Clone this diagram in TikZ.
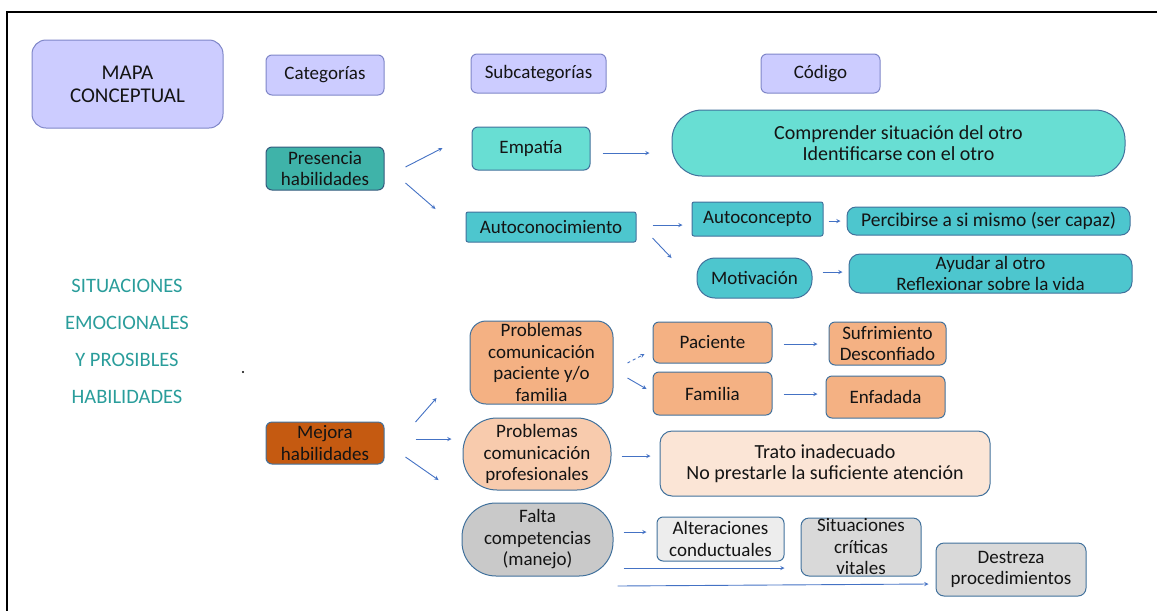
\documentclass[tikz,border=0pt]{standalone}
\usepackage{fontspec}
\setmainfont{Carlito}
\definecolor{lavfill}{HTML}{CCCCFF}
\definecolor{lavline}{HTML}{7F86C8}
\definecolor{boxline}{HTML}{41719C}
\definecolor{tealdark}{HTML}{3FB3A9}
\definecolor{turq}{HTML}{68DED3}
\definecolor{cyanbox}{HTML}{4DC6CE}
\definecolor{orangedark}{HTML}{C55A11}
\definecolor{orangelight}{HTML}{F4B183}
\definecolor{peach}{HTML}{F8CBAD}
\definecolor{peachlight}{HTML}{FBE5D6}
\definecolor{grayfalta}{HTML}{C9C9C9}
\definecolor{graylight}{HTML}{EDEDED}
\definecolor{graymid}{HTML}{D9D9D9}
\definecolor{arrblue}{HTML}{4472C4}
\definecolor{situtext}{HTML}{2A9D9B}

\begin{document}
\begin{tikzpicture}[x=1pt, y=-1pt,
    mybox/.style={rectangle, draw=boxline, line width=1pt, rounded corners=6pt, inner sep=0pt, align=center, font=\fontsize{19}{21.5}\selectfont, text=black!92},
    lavbox/.style={mybox, fill=lavfill, draw=lavline},
    myarrow/.style={->, >=stealth, draw=arrblue, line width=0.9pt},
]
\useasboundingbox (0,0) rectangle (1161,611);
\draw[line width=1.6pt] (1157,12) -- (7,12) -- (7,611);

% encabezados
\node[lavbox, minimum width=191, minimum height=88, rounded corners=14pt, font=\fontsize{21}{23}\selectfont] (mapa) at (127.5,84) {MAPA\\CONCEPTUAL};
\node[lavbox, minimum width=118, minimum height=40] (cat) at (325,75) {Categorías};
\node[lavbox, minimum width=135, minimum height=39] (subcat) at (538.5,73.5) {Subcategorías};
\node[lavbox, minimum width=119, minimum height=39] (codigo) at (820.5,73.5) {Código};

% presencia habilidades
\node[mybox, fill=tealdark, draw=boxline!80!black, minimum width=118, minimum height=43] (presencia) at (325,168.5) {Presencia\\habilidades};
\node[mybox, fill=turq, minimum width=118, minimum height=43] (empatia) at (531,148.5) {Empatía};
\node[mybox, fill=turq, minimum width=453, minimum height=66, rounded corners=30pt, font=\fontsize{20}{21.5}\selectfont] (comprender) at (898.5,143) {Comprender situación del otro\\Identificarse con el otro};
\node[mybox, fill=cyanbox, minimum width=170, minimum height=30, rounded corners=2pt] (autoconoc) at (551,227) {Autoconocimiento};
\node[mybox, fill=cyanbox, minimum width=131, minimum height=34, rounded corners=2pt] (autoconcepto) at (757.5,219) {Autoconcepto};
\node[mybox, fill=cyanbox, minimum width=283, minimum height=28, rounded corners=9pt, font=\fontsize{19.5}{21}\selectfont] (percibirse) at (988.5,221) {Percibirse a si mismo (ser capaz)};
\node[mybox, fill=cyanbox, minimum width=115, minimum height=40, rounded corners=18pt] (motivacion) at (754.5,278) {Motivación};
\node[mybox, fill=cyanbox, minimum width=283, minimum height=39, rounded corners=11pt] (ayudar) at (990.5,273.5) {Ayudar al otro\\Reflexionar sobre la vida};

\draw[myarrow] ([shift={(21,-1.5)}]presencia.east) -- ([shift={(-29,-0.5)}]empatia.west);
\draw[myarrow] ([shift={(21,14.5)}]presencia.east) -- ([shift={(-30,-18)}]autoconoc.west);
\draw[myarrow] ([shift={(12,4.5)}]empatia.east) -- ([shift={(-22,10)}]comprender.west);
\draw[myarrow] ([shift={(16,-2)}]autoconoc.east) -- ([shift={(-9,6)}]autoconcepto.west);
\draw[myarrow] ([shift={(16,11)}]autoconoc.east) -- ([shift={(-25,-20)}]motivacion.west);
\draw[myarrow] ([shift={(5,2)}]autoconcepto.east) -- ([shift={(-6,0)}]percibirse.west);
\draw[myarrow] ([shift={(10,-6)}]motivacion.east) -- ([shift={(-6,-1.5)}]ayudar.west);

% texto lateral
\node[align=center, text=situtext, font=\fontsize{20.5}{37}\selectfont] (situ) at (127,341.5) {SITUACIONES\\EMOCIONALES\\Y PROSIBLES\\HABILIDADES};
\fill (243,372) circle (1.2);

% mejora habilidades
\node[mybox, fill=orangedark, minimum width=118, minimum height=42] (mejora) at (325,443) {Mejora\\habilidades};
\node[mybox, fill=orangelight, minimum width=143, minimum height=83, rounded corners=16pt] (probpac) at (541.5,362.5) {Problemas\\comunicación\\paciente y/o\\familia};
\node[mybox, fill=orangelight, minimum width=119, minimum height=41] (paciente) at (712.5,342.5) {Paciente};
\node[mybox, fill=orangelight, minimum width=119, minimum height=43] (familia) at (712.5,393.5) {Familia};
\node[mybox, fill=orangelight, minimum width=117, minimum height=43] (sufrimiento) at (887.5,343.5) {Sufrimiento\\Desconfiado};
\node[mybox, fill=orangelight, minimum width=119, minimum height=42] (enfadada) at (885.5,397) {Enfadada};
\node[mybox, fill=peach, minimum width=148, minimum height=72, rounded corners=34pt] (probprof) at (537,454) {Problemas\\comunicación\\profesionales};
\node[mybox, fill=peachlight, minimum width=330, minimum height=65, rounded corners=12pt, font=\fontsize{20}{21.5}\selectfont] (trato) at (825,463.5) {Trato inadecuado\\No prestarle la suficiente atención};
\node[mybox, fill=grayfalta, minimum width=151, minimum height=73, rounded corners=34pt] (falta) at (537.5,539.5) {Falta\\competencias\\(manejo)};
\node[mybox, fill=graylight, minimum width=127, minimum height=44] (alteraciones) at (720.5,539) {Alteraciones\\conductuales};
\node[mybox, fill=graymid, minimum width=120, minimum height=58, rounded corners=8pt] (situaciones) at (861,547) {Situaciones\\críticas\\vitales};
\node[mybox, fill=graymid, minimum width=150, minimum height=53, rounded corners=8pt] (destreza) at (1011,569.5) {Destreza\\procedimientos};

\draw[myarrow] ([shift={(31,-21)}]mejora.east) -- ([shift={(-33,35.5)}]probpac.west);
\draw[myarrow] ([shift={(31,-4)}]mejora.east) -- ([shift={(-11,-15)}]probprof.west);
\draw[myarrow] ([shift={(21,14)}]mejora.east) -- ([shift={(-23,-59.5)}]falta.west);
\draw[myarrow, dashed] ([shift={(14,0.5)}]probpac.east) -- ([shift={(-8,11.5)}]paciente.west);
\draw[myarrow] ([shift={(14,15.5)}]probpac.east) -- ([shift={(-6,-4.5)}]familia.west);
\draw[myarrow] ([shift={(11,1.5)}]paciente.east) -- ([shift={(-11,0.5)}]sufrimiento.west);
\draw[myarrow] ([shift={(11,0.5)}]familia.east) -- ([shift={(-8,-3)}]enfadada.west);
\draw[myarrow] ([shift={(10,2)}]probprof.east) -- ([shift={(-9,-7.5)}]trato.west);
\draw[myarrow] ([shift={(10,-7.5)}]falta.east) -- ([shift={(-10,-7)}]alteraciones.west);
\draw[myarrow] ([shift={(10,28.5)}]falta.east) -- ([shift={(-16,21)}]situaciones.west);
\draw[myarrow] ([shift={(4,46.5)}]falta.east) -- ([shift={(-7,14.5)}]destreza.west);
\end{tikzpicture}
\end{document}
